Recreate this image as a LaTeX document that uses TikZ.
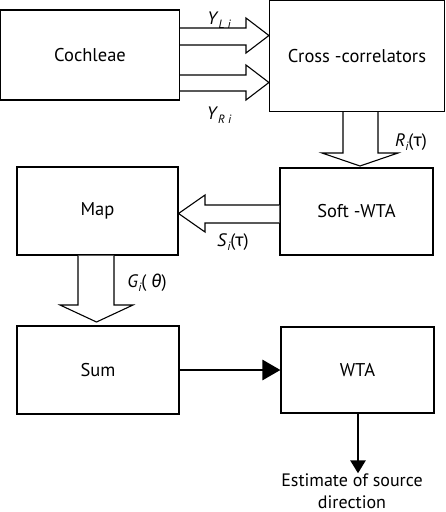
\documentclass[tikz,border=0pt]{standalone}
\usepackage{fontspec}
\setmainfont{PT Sans}
\newfontfamily\grk{Fira Sans}
\usetikzlibrary{arrows.meta,calc}
\newcommand{\lowidx}[1]{\raisebox{-4pt}{\fontsize{12}{12}\selectfont\itshape #1}}
\tikzset{
  block/.style={draw, line width=1.1pt, inner sep=0pt, font=\fontsize{18.5}{22}\selectfont},
  fat/.style={draw, line width=1.1pt, fill=white, line join=miter},
  flow/.style={line width=2.8pt, -{Triangle[length=18pt,width=20pt]}},
  lbl/.style={inner sep=0pt, font=\fontsize{18}{21}\selectfont}
}
\begin{document}
\begin{tikzpicture}[x=1pt,y=1pt]
\useasboundingbox (0,0) rectangle (445,-512);
% boxes
\node[block, minimum width=179pt, minimum height=90pt] (coch) at (90,-55) {Cochleae};
\node[block, minimum width=175pt, minimum height=111pt] (cross) at (357,-56) {Cross -correlators};
\node[block, minimum width=153pt, minimum height=87pt] (soft) at (356.5,-211.5) {Soft -WTA};
\node[block, minimum width=161pt, minimum height=88pt] (map) at (97.5,-211) {Map};
\node[block, minimum width=162pt, minimum height=88pt] (sum) at (98,-370) {Sum};
\node[block, minimum width=153pt, minimum height=86pt] (wta) at (357.5,-370) {WTA};
\node[lbl, align=center, font=\fontsize{18}{22}\selectfont] (est) at (352,-491) {Estimate of source\\direction};
% hollow arrows
\draw[fat] (coch.east |- 0,-28) -- (246,-28) -- (246,-18) -- (cross.west |- 0,-35.5)
  -- (246,-53) -- (246,-45) -- (coch.east |- 0,-45);
\draw[fat] (coch.east |- 0,-75) -- (246,-75) -- (246,-65) -- (cross.west |- 0,-82.5)
  -- (246,-100) -- (246,-91) -- (coch.east |- 0,-91);
\draw[fat] (cross.south -| 343,0) -- (343,-153) -- (322,-153) -- (360,-166)
  -- (398,-153) -- (378,-153) -- (cross.south -| 378,0);
\draw[fat] (soft.west |- 0,-205) -- (205,-205) -- (205,-195) -- (map.east |- 0,-213.5)
  -- (205,-232) -- (205,-223) -- (soft.west |- 0,-223);
\draw[fat] (map.south -| 78,0) -- (78,-305) -- (60,-305) -- (96.5,-322)
  -- (133,-305) -- (114,-305) -- (map.south -| 114,0);
% labels
\node[lbl] (yl) at (219,-20) {\textit{Y}\lowidx{L i}};
\node[lbl] (yr) at (219,-115) {\textit{Y}\lowidx{R i}};
\node[lbl] (rl) at (411,-142) {\textit{R}\lowidx{i}({\grk τ})};
\node[lbl] (sl) at (233,-242) {\textit{S}\lowidx{i}({\grk τ})};
\node[lbl] (gl) at (147,-283) {\textit{G}\lowidx{i}( {\grk\itshape θ})};
% thick arrows
\draw[flow] (sum) -- (wta);
\draw[flow, -{Triangle[length=13pt,width=15pt]}] (wta.south -| 358,0) -- (est.north -| 358,0);
\end{tikzpicture}
\end{document}
